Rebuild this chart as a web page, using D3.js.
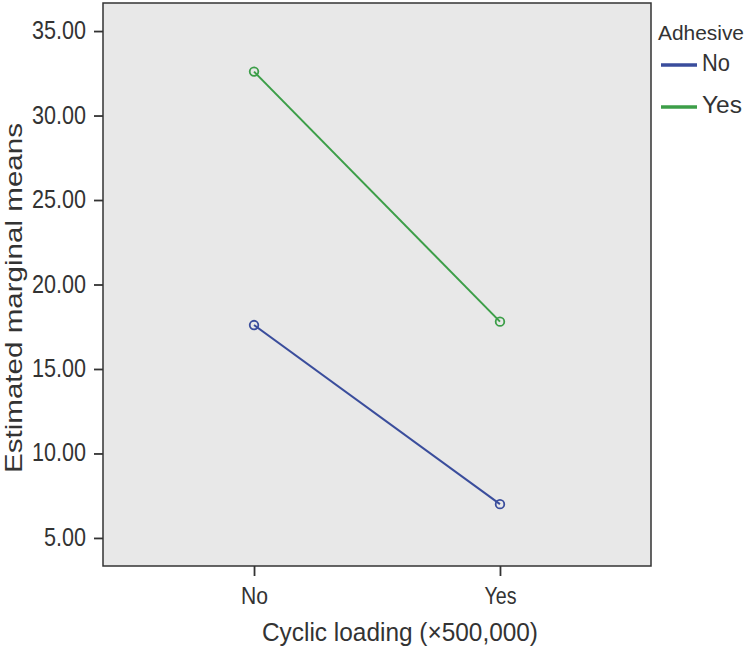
<!DOCTYPE html>
<html><head><meta charset="utf-8">
<script src="https://cdn.jsdelivr.net/npm/d3@7"></script>
<style>body{margin:0;background:#fff;} text{font-family:"Liberation Sans",Arial,sans-serif;fill:#333;}</style>
</head><body>
<svg id="chart" width="745" height="649"></svg>
<script>
const categories = ["No", "Yes"];
const seriesNames = ["No", "Yes"];
const adhesiveNo = [17.6, 7.0];
const adhesiveYes = [32.6, 17.8];
const yTicks = [5, 10, 15, 20, 25, 30, 35];
const colors = ["#3a4d9c", "#3c9e48"];

const svg = d3.select("#chart");
const L = 103, R = 651, T = 3, B = 566;
const x = d3.scalePoint().domain(categories).range([L, R]).padding(0.614);
const y = d3.scaleLinear().domain([3.34, 36.66]).range([B, T]);

svg.append("rect").attr("x", L).attr("y", T).attr("width", R - L).attr("height", B - T)
  .attr("fill", "#e8e8e8").attr("stroke", "#333").attr("stroke-width", 1.5);

const yAxis = svg.append("g").attr("transform", `translate(${L},0)`)
  .call(d3.axisLeft(y).tickValues(yTicks).tickFormat(d3.format(".2f")).tickSize(9).tickPadding(8));
yAxis.select(".domain").remove();
yAxis.selectAll("line").attr("stroke", "#333").attr("stroke-width", 1.8);
yAxis.selectAll("text").attr("font-size", 25).attr("fill", "#333")
  .attr("dy", "0.3em").attr("x", -17)
  .attr("textLength", d => d >= 10 ? 54 : 42).attr("lengthAdjust", "spacingAndGlyphs")
  .style("font-family", "Liberation Sans, Arial, sans-serif");

const xAxis = svg.append("g").attr("transform", `translate(0,${B})`)
  .call(d3.axisBottom(x).tickSize(10).tickPadding(12));
xAxis.select(".domain").remove();
xAxis.selectAll("line").attr("stroke", "#333").attr("stroke-width", 1.8);
xAxis.selectAll("text").attr("font-size", 23).attr("fill", "#333")
  .attr("y", 38).attr("dy", 0)
  .attr("textLength", d => d === "No" ? 27 : 32).attr("lengthAdjust", "spacingAndGlyphs")
  .style("font-family", "Liberation Sans, Arial, sans-serif");

const series = [adhesiveNo, adhesiveYes];
const line = d3.line().x((d, i) => x(categories[i])).y(d => y(d));
series.forEach((vals, s) => {
  svg.append("path").datum(vals).attr("d", line).attr("fill", "none")
    .attr("stroke", colors[s]).attr("stroke-width", 2);
  svg.selectAll(null).data(vals).enter().append("circle")
    .attr("cx", (d, i) => x(categories[i])).attr("cy", d => y(d)).attr("r", 4.3)
    .attr("fill", "none").attr("stroke", colors[s]).attr("stroke-width", 1.8);
});

svg.append("text").attr("x", 262).attr("y", 641)
  .attr("font-size", 26).attr("textLength", 276).attr("lengthAdjust", "spacingAndGlyphs")
  .text("Cyclic loading (×500,000)");
svg.append("text").attr("transform", `translate(22,473) rotate(-90)`)
  .attr("font-size", 24).attr("textLength", 350).attr("lengthAdjust", "spacingAndGlyphs")
  .text("Estimated marginal means");

const lg = svg.append("g");
lg.append("text").attr("x", 658).attr("y", 40).attr("font-size", 21)
  .attr("textLength", 86).attr("lengthAdjust", "spacingAndGlyphs").text("Adhesive");
const legendTextLen = [28, 40];
seriesNames.forEach((n, i) => {
  const yy = 65 + i * 42;
  lg.append("line").attr("x1", 661).attr("x2", 697).attr("y1", yy).attr("y2", yy)
    .attr("stroke", colors[i]).attr("stroke-width", 3.5);
  lg.append("text").attr("x", 702).attr("y", yy + 6).attr("font-size", 23)
    .attr("textLength", legendTextLen[i]).attr("lengthAdjust", "spacingAndGlyphs").text(n);
});
</script>
</body></html>
